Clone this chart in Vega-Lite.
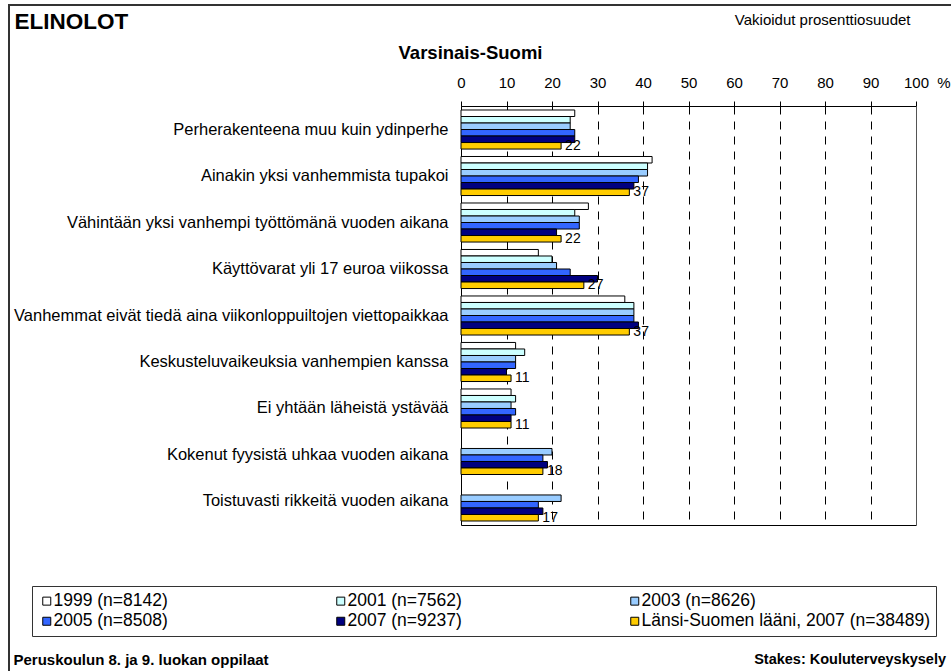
{
  "$schema": "https://vega.github.io/schema/vega-lite/v6.json",
  "width": 955,
  "height": 680,
  "autosize": {"type": "none"},
  "padding": {"left": 9, "top": 5, "right": -13, "bottom": -14},
  "background": "white",
  "config": {
    "font": "Liberation Sans",
    "view": {"stroke": "#333333", "strokeWidth": 2}
  },
  "title": {
    "text": "Stakes: Kouluterveyskysely",
    "orient": "bottom",
    "anchor": "end",
    "frame": "group",
    "baseline": "alphabetic",
    "fontSize": 14.5,
    "fontWeight": "bold",
    "font": "Liberation Sans",
    "color": "black",
    "offset": 0,
    "dx": -18,
    "dy": -21
  },
  "datasets": {
    "d": [
      {"k": "Perherakenteena muu kuin ydinperhe", "s": "1999 (n=8142)", "v": 25},
      {"k": "Perherakenteena muu kuin ydinperhe", "s": "2001 (n=7562)", "v": 24},
      {"k": "Perherakenteena muu kuin ydinperhe", "s": "2003 (n=8626)", "v": 24},
      {"k": "Perherakenteena muu kuin ydinperhe", "s": "2005 (n=8508)", "v": 25},
      {"k": "Perherakenteena muu kuin ydinperhe", "s": "2007 (n=9237)", "v": 25},
      {"k": "Perherakenteena muu kuin ydinperhe", "s": "Länsi-Suomen lääni, 2007 (n=38489)", "v": 22},
      {"k": "Ainakin yksi vanhemmista tupakoi", "s": "1999 (n=8142)", "v": 42},
      {"k": "Ainakin yksi vanhemmista tupakoi", "s": "2001 (n=7562)", "v": 41},
      {"k": "Ainakin yksi vanhemmista tupakoi", "s": "2003 (n=8626)", "v": 41},
      {"k": "Ainakin yksi vanhemmista tupakoi", "s": "2005 (n=8508)", "v": 39},
      {"k": "Ainakin yksi vanhemmista tupakoi", "s": "2007 (n=9237)", "v": 38},
      {"k": "Ainakin yksi vanhemmista tupakoi", "s": "Länsi-Suomen lääni, 2007 (n=38489)", "v": 37},
      {"k": "Vähintään yksi vanhempi työttömänä vuoden aikana", "s": "1999 (n=8142)", "v": 28},
      {"k": "Vähintään yksi vanhempi työttömänä vuoden aikana", "s": "2001 (n=7562)", "v": 25},
      {"k": "Vähintään yksi vanhempi työttömänä vuoden aikana", "s": "2003 (n=8626)", "v": 26},
      {"k": "Vähintään yksi vanhempi työttömänä vuoden aikana", "s": "2005 (n=8508)", "v": 26},
      {"k": "Vähintään yksi vanhempi työttömänä vuoden aikana", "s": "2007 (n=9237)", "v": 21},
      {"k": "Vähintään yksi vanhempi työttömänä vuoden aikana", "s": "Länsi-Suomen lääni, 2007 (n=38489)", "v": 22},
      {"k": "Käyttövarat yli 17 euroa viikossa", "s": "1999 (n=8142)", "v": 17},
      {"k": "Käyttövarat yli 17 euroa viikossa", "s": "2001 (n=7562)", "v": 20},
      {"k": "Käyttövarat yli 17 euroa viikossa", "s": "2003 (n=8626)", "v": 21},
      {"k": "Käyttövarat yli 17 euroa viikossa", "s": "2005 (n=8508)", "v": 24},
      {"k": "Käyttövarat yli 17 euroa viikossa", "s": "2007 (n=9237)", "v": 30},
      {"k": "Käyttövarat yli 17 euroa viikossa", "s": "Länsi-Suomen lääni, 2007 (n=38489)", "v": 27},
      {"k": "Vanhemmat eivät tiedä aina viikonloppuiltojen viettopaikkaa", "s": "1999 (n=8142)", "v": 36},
      {"k": "Vanhemmat eivät tiedä aina viikonloppuiltojen viettopaikkaa", "s": "2001 (n=7562)", "v": 38},
      {"k": "Vanhemmat eivät tiedä aina viikonloppuiltojen viettopaikkaa", "s": "2003 (n=8626)", "v": 38},
      {"k": "Vanhemmat eivät tiedä aina viikonloppuiltojen viettopaikkaa", "s": "2005 (n=8508)", "v": 38},
      {"k": "Vanhemmat eivät tiedä aina viikonloppuiltojen viettopaikkaa", "s": "2007 (n=9237)", "v": 39},
      {"k": "Vanhemmat eivät tiedä aina viikonloppuiltojen viettopaikkaa", "s": "Länsi-Suomen lääni, 2007 (n=38489)", "v": 37},
      {"k": "Keskusteluvaikeuksia vanhempien kanssa", "s": "1999 (n=8142)", "v": 12},
      {"k": "Keskusteluvaikeuksia vanhempien kanssa", "s": "2001 (n=7562)", "v": 14},
      {"k": "Keskusteluvaikeuksia vanhempien kanssa", "s": "2003 (n=8626)", "v": 12},
      {"k": "Keskusteluvaikeuksia vanhempien kanssa", "s": "2005 (n=8508)", "v": 12},
      {"k": "Keskusteluvaikeuksia vanhempien kanssa", "s": "2007 (n=9237)", "v": 10},
      {"k": "Keskusteluvaikeuksia vanhempien kanssa", "s": "Länsi-Suomen lääni, 2007 (n=38489)", "v": 11},
      {"k": "Ei yhtään läheistä ystävää", "s": "1999 (n=8142)", "v": 11},
      {"k": "Ei yhtään läheistä ystävää", "s": "2001 (n=7562)", "v": 12},
      {"k": "Ei yhtään läheistä ystävää", "s": "2003 (n=8626)", "v": 11},
      {"k": "Ei yhtään läheistä ystävää", "s": "2005 (n=8508)", "v": 12},
      {"k": "Ei yhtään läheistä ystävää", "s": "2007 (n=9237)", "v": 11},
      {"k": "Ei yhtään läheistä ystävää", "s": "Länsi-Suomen lääni, 2007 (n=38489)", "v": 11},
      {"k": "Kokenut fyysistä uhkaa vuoden aikana", "s": "2003 (n=8626)", "v": 20},
      {"k": "Kokenut fyysistä uhkaa vuoden aikana", "s": "2005 (n=8508)", "v": 18},
      {"k": "Kokenut fyysistä uhkaa vuoden aikana", "s": "2007 (n=9237)", "v": 19},
      {"k": "Kokenut fyysistä uhkaa vuoden aikana", "s": "Länsi-Suomen lääni, 2007 (n=38489)", "v": 18},
      {"k": "Toistuvasti rikkeitä vuoden aikana", "s": "2003 (n=8626)", "v": 22},
      {"k": "Toistuvasti rikkeitä vuoden aikana", "s": "2005 (n=8508)", "v": 17},
      {"k": "Toistuvasti rikkeitä vuoden aikana", "s": "2007 (n=9237)", "v": 18},
      {"k": "Toistuvasti rikkeitä vuoden aikana", "s": "Länsi-Suomen lääni, 2007 (n=38489)", "v": 17}
    ]
  },
  "data": {"name": "d"},
  "resolve": {"axis": {"x": "independent", "y": "independent"}},
  "layer": [
    {
      "mark": {"type": "bar", "stroke": "black", "strokeWidth": 1},
      "encoding": {
        "y": {
          "field": "k",
          "type": "nominal",
          "sort": ["Perherakenteena muu kuin ydinperhe", "Ainakin yksi vanhemmista tupakoi", "Vähintään yksi vanhempi työttömänä vuoden aikana", "Käyttövarat yli 17 euroa viikossa", "Vanhemmat eivät tiedä aina viikonloppuiltojen viettopaikkaa", "Keskusteluvaikeuksia vanhempien kanssa", "Ei yhtään läheistä ystävää", "Kokenut fyysistä uhkaa vuoden aikana", "Toistuvasti rikkeitä vuoden aikana"],
          "scale": {"range": [101, 520], "paddingInner": 0.16, "paddingOuter": 0.086},
          "axis": {
            "orient": "left",
            "offset": -452,
            "title": "ELINOLOT",
            "titleX": -447,
            "titleY": 23,
            "titleAngle": 0,
            "titleAlign": "left",
            "titleBaseline": "alphabetic",
            "titleFontSize": 22.5,
            "titleFontWeight": "bold",
            "titleColor": "black",
            "labelFontSize": 16.5,
            "labelColor": "black",
            "labelLimit": 600,
            "labelPadding": 13,
            "ticks": false,
            "domain": true,
            "domainColor": "black",
            "grid": false
          }
        },
        "yOffset": {
          "field": "s",
          "type": "nominal",
          "sort": ["1999 (n=8142)", "2001 (n=7562)", "2003 (n=8626)", "2005 (n=8508)", "2007 (n=9237)", "Länsi-Suomen lääni, 2007 (n=38489)"],
          "scale": {"domain": ["1999 (n=8142)", "2001 (n=7562)", "2003 (n=8626)", "2005 (n=8508)", "2007 (n=9237)", "Länsi-Suomen lääni, 2007 (n=38489)"], "paddingInner": 0, "paddingOuter": 0}
        },
        "x": {
          "field": "v",
          "type": "quantitative",
          "scale": {"domain": [0, 100], "range": [452, 907], "nice": false},
          "axis": {
            "orient": "top",
            "offset": -101,
            "values": [0, 10, 20, 30, 40, 50, 60, 70, 80, 90, 100],
            "labelExpr": "datum.value == 100 ? '100\u00a0\u00a0%' : datum.label",
            "labelAlign": {"condition": {"test": "datum.value == 100", "value": "left"}, "value": "center"},
            "labelOffset": {"condition": {"test": "datum.value == 100", "value": -12.5}, "value": 0},
            "labelFontSize": 15,
            "labelColor": "black",
            "labelPadding": 11,
            "labelFlush": false,
            "labelOverlap": false,
            "labelBound": false,
            "ticks": true,
            "tickSize": 5,
            "tickColor": "black",
            "domain": true,
            "domainColor": "black",
            "grid": true,
            "gridDash": [8, 7],
            "gridColor": "black",
            "gridWidth": 1,
            "title": "Varsinais-Suomi",
            "titleX": 461,
            "titleY": -48,
            "titleAlign": "center",
            "titleBaseline": "alphabetic",
            "titleFontSize": 18.5,
            "titleFontWeight": "bold",
            "titleColor": "black"
          }
        },
        "fill": {
          "field": "s",
          "type": "nominal",
          "sort": ["1999 (n=8142)", "2001 (n=7562)", "2003 (n=8626)", "2005 (n=8508)", "2007 (n=9237)", "Länsi-Suomen lääni, 2007 (n=38489)"],
          "scale": {
            "domain": ["1999 (n=8142)", "2001 (n=7562)", "2003 (n=8626)", "2005 (n=8508)", "2007 (n=9237)", "Länsi-Suomen lääni, 2007 (n=38489)"],
            "range": ["#FFFFFF", "#CCFFFF", "#99CCFF", "#3366FF", "#000080", "#FFCC00"]
          },
          "legend": {
            "orient": "none",
            "legendX": 23,
            "legendY": 581,
            "title": null,
            "columns": 3,
            "direction": "horizontal",
            "symbolType": "square",
            "symbolSize": 64,
            "symbolStrokeColor": "black",
            "symbolStrokeWidth": 1,
            "labelFontSize": 17.5,
            "labelColor": "black",
            "labelOffset": -2,
            "labelLimit": 400,
            "columnPadding": 164,
            "rowPadding": 1.5,
            "padding": 6,
            "strokeColor": "#333333",
            "fillColor": "white",
            "gridAlign": "each"
          }
        }
      }
    },
    {
      "transform": [{"filter": "datum.s == 'Länsi-Suomen lääni, 2007 (n=38489)'"}],
      "mark": {"type": "text", "align": "left", "baseline": "middle", "dx": 4, "fontSize": 14, "color": "black"},
      "encoding": {
        "y": {
          "field": "k",
          "type": "nominal",
          "sort": ["Perherakenteena muu kuin ydinperhe", "Ainakin yksi vanhemmista tupakoi", "Vähintään yksi vanhempi työttömänä vuoden aikana", "Käyttövarat yli 17 euroa viikossa", "Vanhemmat eivät tiedä aina viikonloppuiltojen viettopaikkaa", "Keskusteluvaikeuksia vanhempien kanssa", "Ei yhtään läheistä ystävää", "Kokenut fyysistä uhkaa vuoden aikana", "Toistuvasti rikkeitä vuoden aikana"],
          "axis": {
            "orient": "right",
            "offset": -48,
            "labels": false,
            "ticks": false,
            "grid": false,
            "domain": true,
            "domainColor": "#555555",
            "title": "Vakioidut prosenttiosuudet",
            "titleAngle": 0,
            "titleX": -6,
            "titleY": 19,
            "titleAlign": "right",
            "titleBaseline": "alphabetic",
            "titleFontSize": 15,
            "titleFontWeight": "normal",
            "titleColor": "black"
          }
        },
        "yOffset": {
          "field": "s",
          "type": "nominal",
          "sort": ["1999 (n=8142)", "2001 (n=7562)", "2003 (n=8626)", "2005 (n=8508)", "2007 (n=9237)", "Länsi-Suomen lääni, 2007 (n=38489)"]
        },
        "x": {
          "field": "v",
          "type": "quantitative",
          "axis": {
            "orient": "bottom",
            "offset": -160,
            "labels": false,
            "ticks": false,
            "grid": false,
            "domain": true,
            "domainColor": "black",
            "title": "Peruskoulun 8. ja 9. luokan oppilaat",
            "titleX": 4,
            "titleY": 139,
            "titleAlign": "left",
            "titleBaseline": "alphabetic",
            "titleFontSize": 15,
            "titleFontWeight": "bold",
            "titleColor": "black"
          }
        },
        "text": {"field": "v", "type": "quantitative", "format": "d"}
      }
    }
  ]
}
